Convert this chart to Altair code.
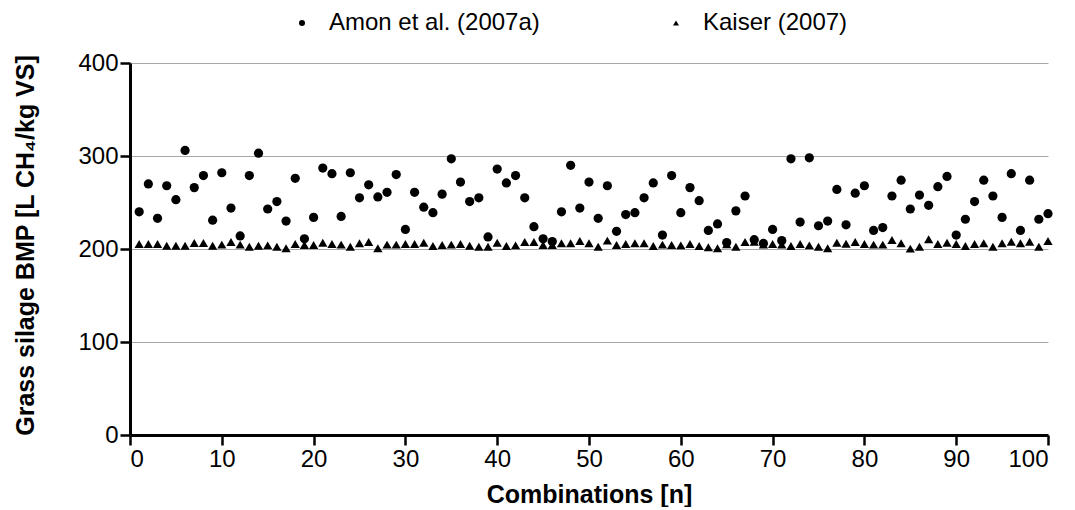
import altair as alt
import pandas as pd

combinations = list(range(1, 101))

amon = [240, 270, 233, 268, 253, 306, 266, 279, 231, 282,
        244, 214, 279, 303, 243, 251, 230, 276, 211, 234,
        287, 281, 235, 282, 255, 269, 256, 261, 280, 221,
        261, 245, 239, 259, 297, 272, 251, 255, 213, 286,
        271, 279, 255, 224, 211, 208, 240, 290, 244, 272,
        233, 268, 219, 237, 239, 255, 271, 215, 279, 239,
        266, 252, 220, 227, 207, 241, 257, 210, 206, 221,
        209, 297, 229, 298, 225, 230, 264, 226, 260, 268,
        220, 223, 257, 274, 243, 258, 247, 267, 278, 215,
        232, 251, 274, 257, 234, 281, 220, 274, 232, 238]

kaiser = [205.4, 205.4, 205.4, 203.6, 203.6, 203.6, 206.5, 206.5, 203.6, 204.7,
          207.5, 204.7, 202.5, 203.6, 203.9, 202.5, 200.7, 205.4, 204.3, 204.3,
          206.8, 205.4, 204.7, 202.5, 206.1, 207.5, 200.7, 204.7, 204.7, 205.4,
          205.4, 206.8, 203.2, 204.3, 204.7, 205.4, 203.6, 202.5, 202.5, 206.8,
          203.2, 203.9, 207.5, 207.5, 204.3, 204.3, 206.1, 206.1, 208.6, 206.1,
          202.5, 209.0, 204.3, 205.4, 206.1, 206.1, 203.2, 204.7, 204.3, 203.9,
          205.4, 203.2, 201.8, 200.7, 205.0, 202.5, 207.5, 207.9, 204.7, 205.4,
          204.7, 203.2, 205.4, 203.9, 202.5, 200.7, 206.8, 205.7, 207.5, 205.4,
          204.7, 204.7, 209.7, 206.1, 200.4, 202.5, 210.4, 205.4, 206.8, 205.4,
          203.2, 205.4, 206.1, 202.5, 206.1, 207.9, 206.1, 207.9, 202.5, 208.6]

series_names = ["Amon et al. (2007a)", "Kaiser (2007)"]
x_ticks = list(range(0, 101, 10))
y_ticks = [0, 100, 200, 300, 400]

df = pd.DataFrame({
    "n": combinations + combinations,
    "bmp": amon + kaiser,
    "series": [series_names[0]] * len(amon) + [series_names[1]] * len(kaiser),
})

FONT = "Liberation Sans, Arial, sans-serif"

chart = alt.Chart(df).mark_point(filled=True, opacity=1, color="black", size=85).encode(
    x=alt.X("n:Q",
            scale=alt.Scale(domain=[0, 100], nice=False),
            axis=alt.Axis(values=x_ticks, title="Combinations [n]", grid=False,
                          titleY=67, titleBaseline="alphabetic")),
    y=alt.Y("bmp:Q",
            scale=alt.Scale(domain=[0, 400], nice=False),
            axis=alt.Axis(values=y_ticks, title="Grass silage BMP [L CH₄/kg VS]", grid=True,
                          titleX=-97, titleY=182, titleAngle=270, titleAlign="center",
                          titleBaseline="alphabetic")),
    shape=alt.Shape("series:N",
                    scale=alt.Scale(domain=series_names, range=["circle", "triangle-up"]),
                    legend=alt.Legend(title=None, orient="none", direction="horizontal",
                                      legendX=160, legendY=-52, columnPadding=124,
                                      labelOffset=15, symbolSize=36, padding=0,
                                      labelFontSize=24, labelFont=FONT, labelColor="black",
                                      labelBaseline="middle", labelLimit=400,
                                      symbolFillColor="black", symbolStrokeColor="black")),
).properties(
    width=918,
    height=372,
    padding={"left": 122, "top": 55, "right": 10, "bottom": 72},
    autosize=alt.AutoSizeParams(type="none"),
).configure_view(
    strokeWidth=0
).configure_axis(
    domainColor="black", domainWidth=3,
    tickColor="black", tickWidth=2.5, tickSize=10,
    labelFont=FONT, labelFontSize=24, labelColor="black", labelPadding=2,
    titleFont=FONT, titleFontSize=25, titleFontWeight="bold", titleColor="black",
    gridColor="#a8a8a8", gridWidth=1,
)

chart.save("out.html", embed_options={"renderer": "svg", "actions": False})
